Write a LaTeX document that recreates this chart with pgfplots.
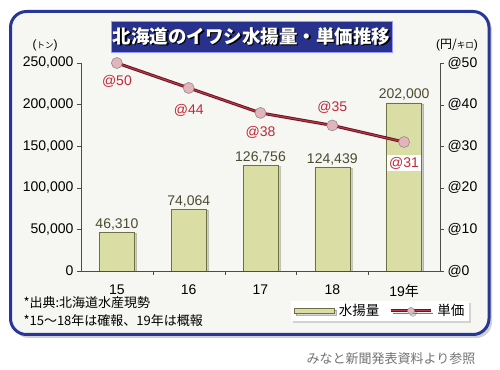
\documentclass[border=0pt]{standalone}
\usepackage{fontspec}
\setmainfont{Liberation Sans}
\newfontfamily\jp{Noto Sans CJK JP}
\usepackage{pgfplots}
\pgfplotsset{compat=1.18}
\usepackage{pgfplotstable}
\usetikzlibrary{shadows}
\definecolor{frameblue}{RGB}{40,55,150}
\definecolor{titleblue}{RGB}{40,50,140}
\definecolor{barfill}{RGB}{218,222,165}
\definecolor{baredge}{RGB}{110,112,70}
\definecolor{linered}{RGB}{185,60,75}
\definecolor{linedark}{RGB}{110,20,35}
\definecolor{labelred}{RGB}{195,40,55}
\definecolor{labelolive}{RGB}{75,75,45}
\definecolor{bgcol}{RGB}{246,246,243}
\definecolor{markfill}{RGB}{228,180,188}
\pgfplotstableread{
x catch
0 46310
1 74064
2 126756
3 124439
4 202000
}\catchdata
\pgfplotstableread{
x price ys bo
0 50 -18 0
1 44 -22 0
2 38 -19 0
3 35 18 0
4 31 -21 1
}\pricedata
\begin{document}
\begin{tikzpicture}[x=1pt,y=1pt]
\useasboundingbox (0,0) rectangle (500,369);
\fill[white] (0,0) rectangle (500,369);
\fill[black!18, rounded corners=16] (13,31) rectangle (492,355);
\draw[line width=3pt, draw=frameblue, fill=bgcol, rounded corners=16] (10.5,34.5) rectangle (489,357.5);
% title
\node[fill=titleblue, draw=white!60!blue, line width=0.8pt, minimum width=281pt, minimum height=31pt, inner sep=0pt] (T) at (251.5,332.5) {};
\node[text=black, font=\jp\bfseries\fontsize{18.5}{20}\selectfont] at (252.8,331.2) {北海道のイワシ水揚量・単価推移};
\node[text=white, font=\jp\bfseries\fontsize{18.5}{20}\selectfont] at (251.5,332.5) {北海道のイワシ水揚量・単価推移};
% units
\node[font=\fontsize{12}{14}\selectfont] at (45,324) {(\jp\fontsize{8.5}{9}\selectfont トン\rmfamily\fontsize{12}{14}\selectfont)};
\node[font=\fontsize{12}{14}\selectfont] at (457,324) {(\jp 円/\fontsize{8.5}{9}\selectfont キロ\rmfamily\fontsize{12}{14}\selectfont)};
% footnotes
\node[anchor=west, font=\jp\fontsize{13}{15}\selectfont] at (20,66) {*出典:北海道水産現勢};
\node[anchor=west, font=\jp\fontsize{13}{15}\selectfont] at (20,48) {*15～18年は確報、19年は概報};
\node[anchor=east, text=black!55, font=\jp\fontsize{13}{15}\selectfont] at (479,10) {みなと新聞発表資料より参照};
\begin{axis}[
  at={(81pt,98pt)}, anchor=south west, scale only axis,
  width=359pt, height=208pt,
  xmin=-0.5, xmax=4.5, ymin=0, ymax=250000,
  axis x line*=bottom, axis y line*=left,
  axis line style={black!70, -},
  tick align=outside, major tick length=4pt,
  ytick={0,50000,...,250000},
  scaled y ticks=false,
  /pgf/number format/fixed,
  /pgf/number format/precision=0,
  /pgf/number format/1000 sep={,},
  /pgf/number format/assume math mode=true,
  tick label style={font=\fontsize{14}{16}\selectfont},
  ytick style={black!70},
  xtick={0,...,4},
  xticklabels={15,16,17,18,19\jp 年},
  xtick style={draw=none},
  xticklabel style={yshift=-6pt},
  extra x ticks={0.5,1.5,2.5,3.5},
  extra x tick labels={},
  extra x tick style={xtick style={draw=black!70}},
]
\addplot[ybar, bar width=35pt, bar shift=0pt, fill=barfill, draw=baredge,
  drop shadow={shadow xshift=2pt, shadow yshift=-1pt, opacity=0.35},
  nodes near coords,
  nodes near coords style={font=\fontsize{14}{16}\selectfont, text=labelolive, inner sep=2pt}]
  table[x=x,y=catch]{\catchdata};
\end{axis}
\begin{axis}[
  at={(81pt,98pt)}, anchor=south west, scale only axis,
  width=359pt, height=208pt,
  xmin=-0.5, xmax=4.5, ymin=0, ymax=50,
  axis x line=none, axis y line*=right,
  axis line style={black!70, -},
  tick align=outside, major tick length=4pt,
  ytick={0,10,...,50},
  /pgf/number format/fixed,
  /pgf/number format/precision=0,
  /pgf/number format/assume math mode=true,
  yticklabel={@\pgfmathprintnumber{\tick}},
  tick label style={font=\fontsize{14}{16}\selectfont},
  ytick style={black!70},
  legend style={at={(0.833,-0.192)}, anchor=center, legend columns=2,
    draw=none, fill=white, font=\jp\fontsize{13.5}{15}\selectfont,
    drop shadow={shadow xshift=2pt, shadow yshift=-2pt, opacity=0.3},
    /tikz/every odd column/.append style={column sep=3pt},
    /tikz/every even column/.append style={column sep=8pt}},
]
\addlegendimage{legend image code/.code={\draw[fill=barfill, draw=baredge] (0pt,-2.5pt) rectangle (40pt,2.5pt);}}
\addlegendentry{水揚量}
\addlegendimage{legend image code/.code={\draw[linedark, line width=3pt] (0pt,0pt) -- (40pt,0pt); \draw[linered, line width=1pt] (0pt,0pt) -- (40pt,0pt); \fill[markfill, draw=black!45] (20pt,0pt) circle (3.5pt);}}
\addlegendentry{単価}
\addplot[forget plot, color=linered, line width=1pt, preaction={draw=linedark, line width=3pt},
  mark=*, mark size=5.5pt, mark options={fill=markfill, draw=black!45, line width=0.6pt},
  visualization depends on={\thisrow{ys} \as \ys},
  visualization depends on={\thisrow{bo} \as \bo},
  nodes near coords={@\pgfmathprintnumber{\pgfplotspointmeta}},
  nodes near coords style={anchor=center, yshift=\ys pt, fill=white, fill opacity=\bo, text opacity=1, inner sep=2pt, font=\fontsize{14}{16}\selectfont, text=labelred}]
  table[x=x,y=price]{\pricedata};
\end{axis}
\end{tikzpicture}
\end{document}
